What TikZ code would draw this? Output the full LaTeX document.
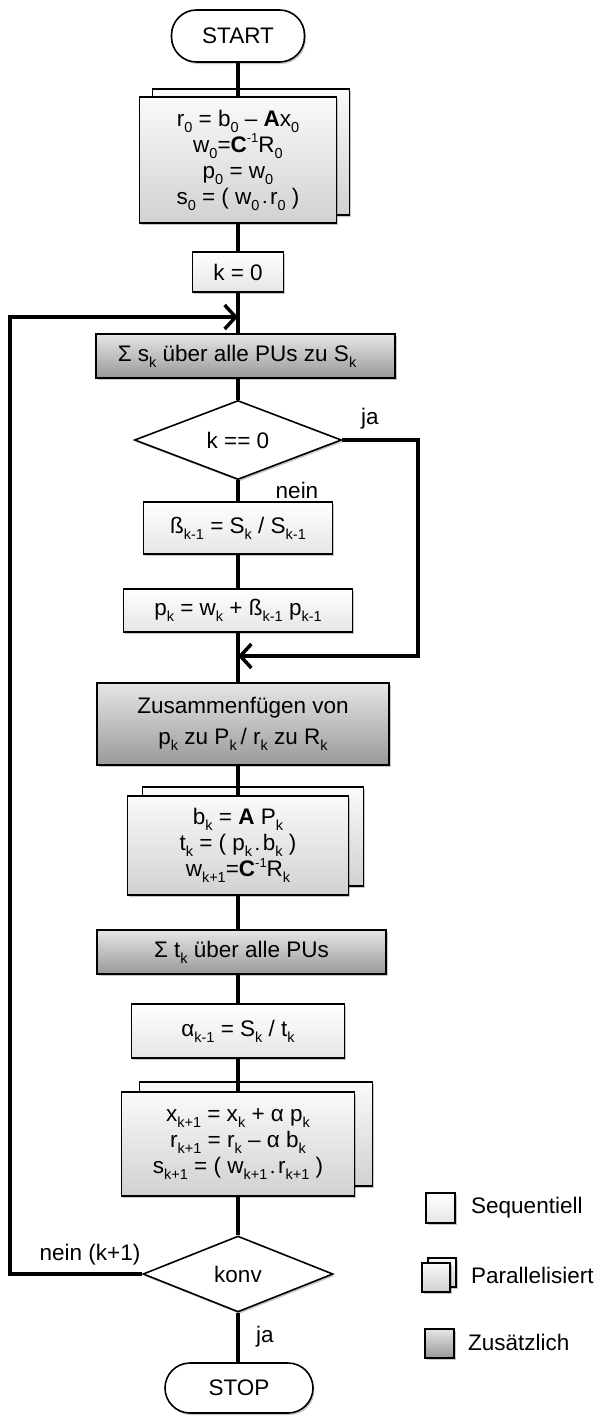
\documentclass[tikz,border=0pt]{standalone}
\usepackage{fontspec}
\setmainfont{Liberation Sans}
\usetikzlibrary{shapes.geometric,arrows.meta,shadows,calc}

\newcommand{\sbs}[1]{\raisebox{-0.26em}{\fontsize{14.5}{14.5}\selectfont #1}}
\newcommand{\sps}[1]{\raisebox{0.42em}{\fontsize{13}{13}\selectfont #1}}
\newcommand{\pdot}{\,\raisebox{-0.08em}{\fontsize{9}{9}\selectfont •}\,}

\tikzset{
  fnt/.style={font=\fontsize{22.5}{25}\selectfont},
  shd/.style={drop shadow={shadow xshift=1.5pt, shadow yshift=-2pt, opacity=0.22, fill=black}},
  base/.style={fnt, draw=black, line width=1.6pt, align=center, inner sep=0pt},
  seqbox/.style={base, rectangle, shd, top color=white, bottom color=black!10},
  parbox/.style={base, rectangle, shd, top color=black!2, bottom color=black!18},
  addbox/.style={base, rectangle, shd, top color=black!10, bottom color=black!40},
  term/.style={base, rectangle, rounded corners=25pt, shd, fill=white},
  decision/.style={base, diamond, shd, fill=white},
  conn/.style={line width=3.5pt, draw=black},
  arr/.style={conn, -{Straight Barb[length=11pt,width=24pt]}},
  lbl/.style={fnt, inner sep=0pt},
}

\begin{document}
\begin{tikzpicture}[x=1pt,y=-1pt]
\path[use as bounding box] (0,0) rectangle (596,1416);

% terminal start
\node[term, minimum width=133pt, minimum height=52pt] (start) at (238,36) {START};

% init (parallel)
\node[parbox, minimum width=197pt, minimum height=126pt] (initb) at (251,152) {};
\node[parbox, minimum width=197pt, minimum height=126pt] (init) at (238,160)
  {r\sbs{0} = b\sbs{0} – \textbf{A}x\sbs{0}\\[1pt]
   w\sbs{0}=\textbf{C}\sps{-1}R\sbs{0}\\[1pt]
   p\sbs{0} = w\sbs{0}\\[1pt]
   s\sbs{0} = ( w\sbs{0}\pdot r\sbs{0} )};

% k = 0
\node[seqbox, minimum width=91pt, minimum height=40pt] (k0) at (238,272) {k = 0};

% sum s_k
\node[addbox, minimum width=299pt, minimum height=44pt] (sum1) at (245.5,356) {};
\node[lbl] (sum1t) at (237,356) {Σ s\sbs{k} über alle PUs zu S\sbs{k}};

% decision k == 0
\node[decision, minimum width=207pt, minimum height=74pt] (d1) at (238,440) {k == 0};

% beta
\node[seqbox, minimum width=189pt, minimum height=52pt] (beta) at (238,528)
  {ß\sbs{k-1} = S\sbs{k} / S\sbs{k-1}};

% p_k
\node[seqbox, minimum width=229pt, minimum height=43pt] (pk) at (238,610.5)
  {p\sbs{k} = w\sbs{k} + ß\sbs{k-1} p\sbs{k-1}};

% merge
\node[addbox, minimum width=292pt, minimum height=82pt] (zus) at (243,724)
  {Zusammenfügen von\\[6pt] p\sbs{k} zu P\sbs{k}\,/ r\sbs{k} zu R\sbs{k}};

% parallel 2
\node[parbox, minimum width=221pt, minimum height=99pt] (par2b) at (253,836.5) {};
\node[parbox, minimum width=221pt, minimum height=99pt] (par2) at (238,845.5)
  {b\sbs{k} = \textbf{A} P\sbs{k}\\[1pt]
   t\sbs{k} = ( p\sbs{k}\pdot b\sbs{k} )\\[1pt]
   w\sbs{k+1}=\textbf{C}\sps{-1}R\sbs{k}};

% sum t_k
\node[addbox, minimum width=289pt, minimum height=44pt] (sum2) at (241.5,952)
  {Σ t\sbs{k} über alle PUs};

% alpha
\node[seqbox, minimum width=213pt, minimum height=54pt] (alpha) at (238,1031)
  {α\sbs{k-1} = S\sbs{k} / t\sbs{k}};

% parallel 3
\node[parbox, minimum width=233pt, minimum height=104pt] (par3b) at (256,1134) {};
\node[parbox, minimum width=233pt, minimum height=104pt] (par3) at (238,1144)
  {x\sbs{k+1} = x\sbs{k} + α p\sbs{k}\\[1pt]
   r\sbs{k+1} = r\sbs{k} – α b\sbs{k}\\[1pt]
   s\sbs{k+1} = ( w\sbs{k+1}\pdot r\sbs{k+1} )};

% decision konv
\node[decision, minimum width=190pt, minimum height=76pt] (d2) at (238,1274) {konv};

% stop
\node[term, minimum width=148pt, minimum height=50pt] (stop) at (239,1388) {STOP};

% coordinates
\coordinate (entry) at (238,317);
\coordinate (merge) at (238,656);
\coordinate (rtop) at (418,440);
\coordinate (rbot) at (418,656);
\coordinate (lbot) at (10,1274);
\coordinate (ltop) at (10,317);

% connectors
\draw[conn] (start.south) -- (init.north);
\draw[conn] (init.south) -- (k0.north);
\draw[conn] (k0.south) -- (k0.south |- sum1.north);
\draw[conn] (d1.north |- sum1.south) -- (d1.north);
\draw[conn] (d1.south) -- (beta.north);
\draw[conn] (beta.south) -- (pk.north);
\draw[conn] (pk.south) -- (pk.south |- zus.north);
\draw[conn] (par2.north |- zus.south) -- (par2.north);
\draw[conn] (par2.south) -- (par2.south |- sum2.north);
\draw[conn] (alpha.north |- sum2.south) -- (alpha.north);
\draw[conn] (alpha.south) -- (par3.north);
\draw[conn] (par3.south) -- (d2.north);
\draw[conn] (d2.south) -- (d2.south |- stop.north);
\draw[arr, line join=miter] (d1.east) -- (rtop) -- (rbot) -- (merge);
\draw[arr, line join=miter] (d2.west) -- (lbot) -- (ltop) -- (entry);

% branch labels
\node[lbl] (ja1) at (370,419) {ja};
\node[lbl] (nein1) at (297,490) {nein};
\node[lbl] (nein2) at (90,1255) {nein (k+1)};
\node[lbl] (ja2) at (265,1337) {ja};

% legend
\node[seqbox, minimum width=29pt, minimum height=30pt] (lseq) at (440.5,1208) {};
\node[lbl, anchor=west] (lseqt) at (471,1208) {Sequentiell};
\node[parbox, minimum width=28pt, minimum height=29pt] (lparb) at (442,1272.5) {};
\node[parbox, minimum width=28pt, minimum height=29pt] (lpar) at (436,1277.5) {};
\node[lbl, anchor=west] (lpart) at (471,1275) {Parallelisiert};
\node[addbox, minimum width=29pt, minimum height=29pt] (ladd) at (439.5,1343.5) {};
\node[lbl, anchor=west] (laddt) at (468,1342) {Zusätzlich};
\end{tikzpicture}
\end{document}
